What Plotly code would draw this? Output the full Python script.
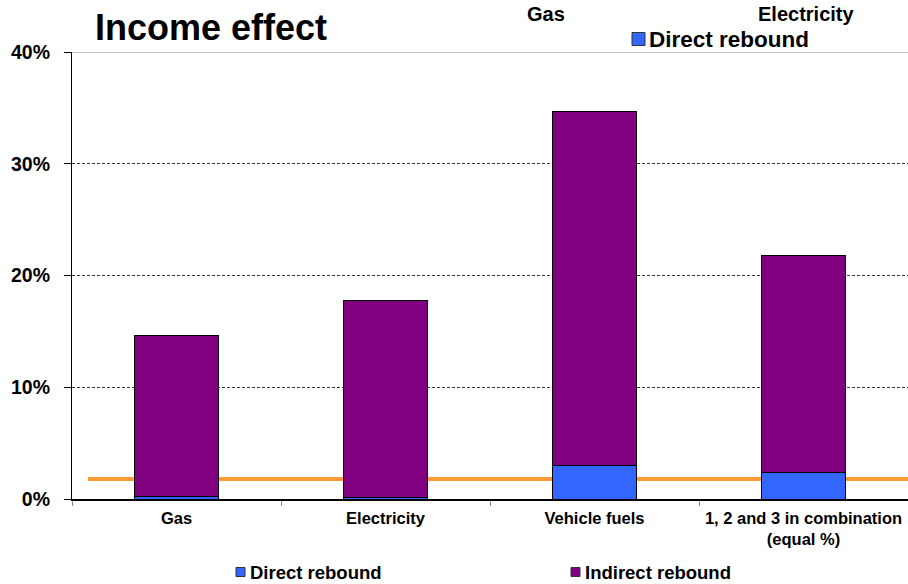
import plotly.graph_objects as go

# ---- data ----
categories = ["Gas", "Electricity", "Vehicle fuels", "1, 2 and 3 in combination<br>(equal %)"]
direct_rebound = [0.2, 0.1, 3.0, 2.4]
indirect_rebound = [14.4, 17.7, 31.7, 19.4]
reference_level = [1.8]
y_tick_vals = [0, 10, 20, 30, 40]
y_tick_text = ["0%", "10%", "20%", "30%", "40%"]
title_text = "Income effect"
top_clipped_labels = ["Gas", "Electricity"]
legend_names = ["Direct rebound", "Indirect rebound"]

# ---- style ----
FONT = "Arial, 'Liberation Sans', sans-serif"
BLUE = "#3366FF"
PURPLE = "#800080"
ORANGE = "#FF9933"
W, H = 908, 584
ML, MR, MT, MB = 72, 0, 52, 85
PW, PH = W - ML - MR, H - MT - MB


def px(xp):
    return (xp - ML) / PW


def py(yp):
    return (H - MB - yp) / PH


fig = go.Figure()
fig.add_trace(go.Bar(x=categories, y=direct_rebound, name=legend_names[0],
                     marker=dict(color=BLUE, line=dict(color="black", width=1)),
                     width=0.4))
fig.add_trace(go.Bar(x=categories, y=indirect_rebound, name=legend_names[1],
                     marker=dict(color=PURPLE, line=dict(color="black", width=1)),
                     width=0.4))

shapes = []
# orange reference line
shapes.append(dict(type="line", xref="paper", yref="y", x0=px(88), x1=1.0,
                   y0=reference_level[0], y1=reference_level[0],
                   line=dict(color=ORANGE, width=4), layer="below"))
# top solid gridline at 40%
shapes.append(dict(type="line", xref="paper", yref="y", x0=0, x1=1,
                   y0=y_tick_vals[-1], y1=y_tick_vals[-1],
                   line=dict(color="#8c8c8c", width=1.2), layer="above"))

annotations = []
annotations.append(dict(text="<b>%s</b>" % title_text, xref="paper", yref="paper",
                        x=px(93), y=py(27), xanchor="left", yanchor="middle",
                        showarrow=False, font=dict(family=FONT, size=36, color="black")))
for lab, cx in zip(top_clipped_labels, [546, 806]):
    annotations.append(dict(text="<b>%s</b>" % lab, xref="paper", yref="paper",
                            x=px(cx), y=py(14), xanchor="center", yanchor="middle",
                            showarrow=False, font=dict(family=FONT, size=20, color="black")))


def legend_item(x_sq, y_c, size, label, color, fsize, gap):
    shapes.append(dict(type="rect", xref="paper", yref="paper",
                       x0=px(x_sq), x1=px(x_sq + size),
                       y0=py(y_c + size / 2), y1=py(y_c - size / 2),
                       fillcolor=color, line=dict(color="#333333", width=1), layer="above"))
    annotations.append(dict(text="<b>%s</b>" % label, xref="paper", yref="paper",
                            x=px(x_sq + size + gap), y=py(y_c), xanchor="left", yanchor="middle",
                            showarrow=False, font=dict(family=FONT, size=fsize, color="black")))


# top legend fragment
legend_item(632, 39, 13, legend_names[0], BLUE, 22.5, 2)
# bottom legend
legend_item(236, 572, 9, legend_names[0], BLUE, 18.5, 3)
legend_item(571, 572, 9, legend_names[1], PURPLE, 18.5, 3)

fig.update_layout(
    width=W, height=H,
    margin=dict(l=ML, r=MR, t=MT, b=MB),
    barmode="stack",
    showlegend=False,
    plot_bgcolor="white",
    paper_bgcolor="white",
    font=dict(family=FONT, color="black"),
    shapes=shapes,
    annotations=annotations,
)
fig.update_xaxes(
    showline=True, linecolor="black", linewidth=1.5,
    ticks="outside", tickson="boundaries", ticklen=5, tickcolor="#888888",
    tickfont=dict(family=FONT, size=16.5, color="black"),
    tickprefix="<b>", ticksuffix="</b>",
    ticklabelstandoff=3,
    showgrid=False,
)
fig.update_yaxes(
    range=[0, 40], tickvals=y_tick_vals, ticktext=["<b>%s</b>" % t for t in y_tick_text],
    showline=True, linecolor="black", linewidth=1.2,
    ticks="outside", ticklen=7, tickcolor="black",
    ticklabelstandoff=10,
    tickfont=dict(family=FONT, size=19.5, color="black"),
    showgrid=True, gridcolor="#333333", gridwidth=1, griddash="3px,2px",
    zeroline=False,
)

fig.write_html("out.html")
